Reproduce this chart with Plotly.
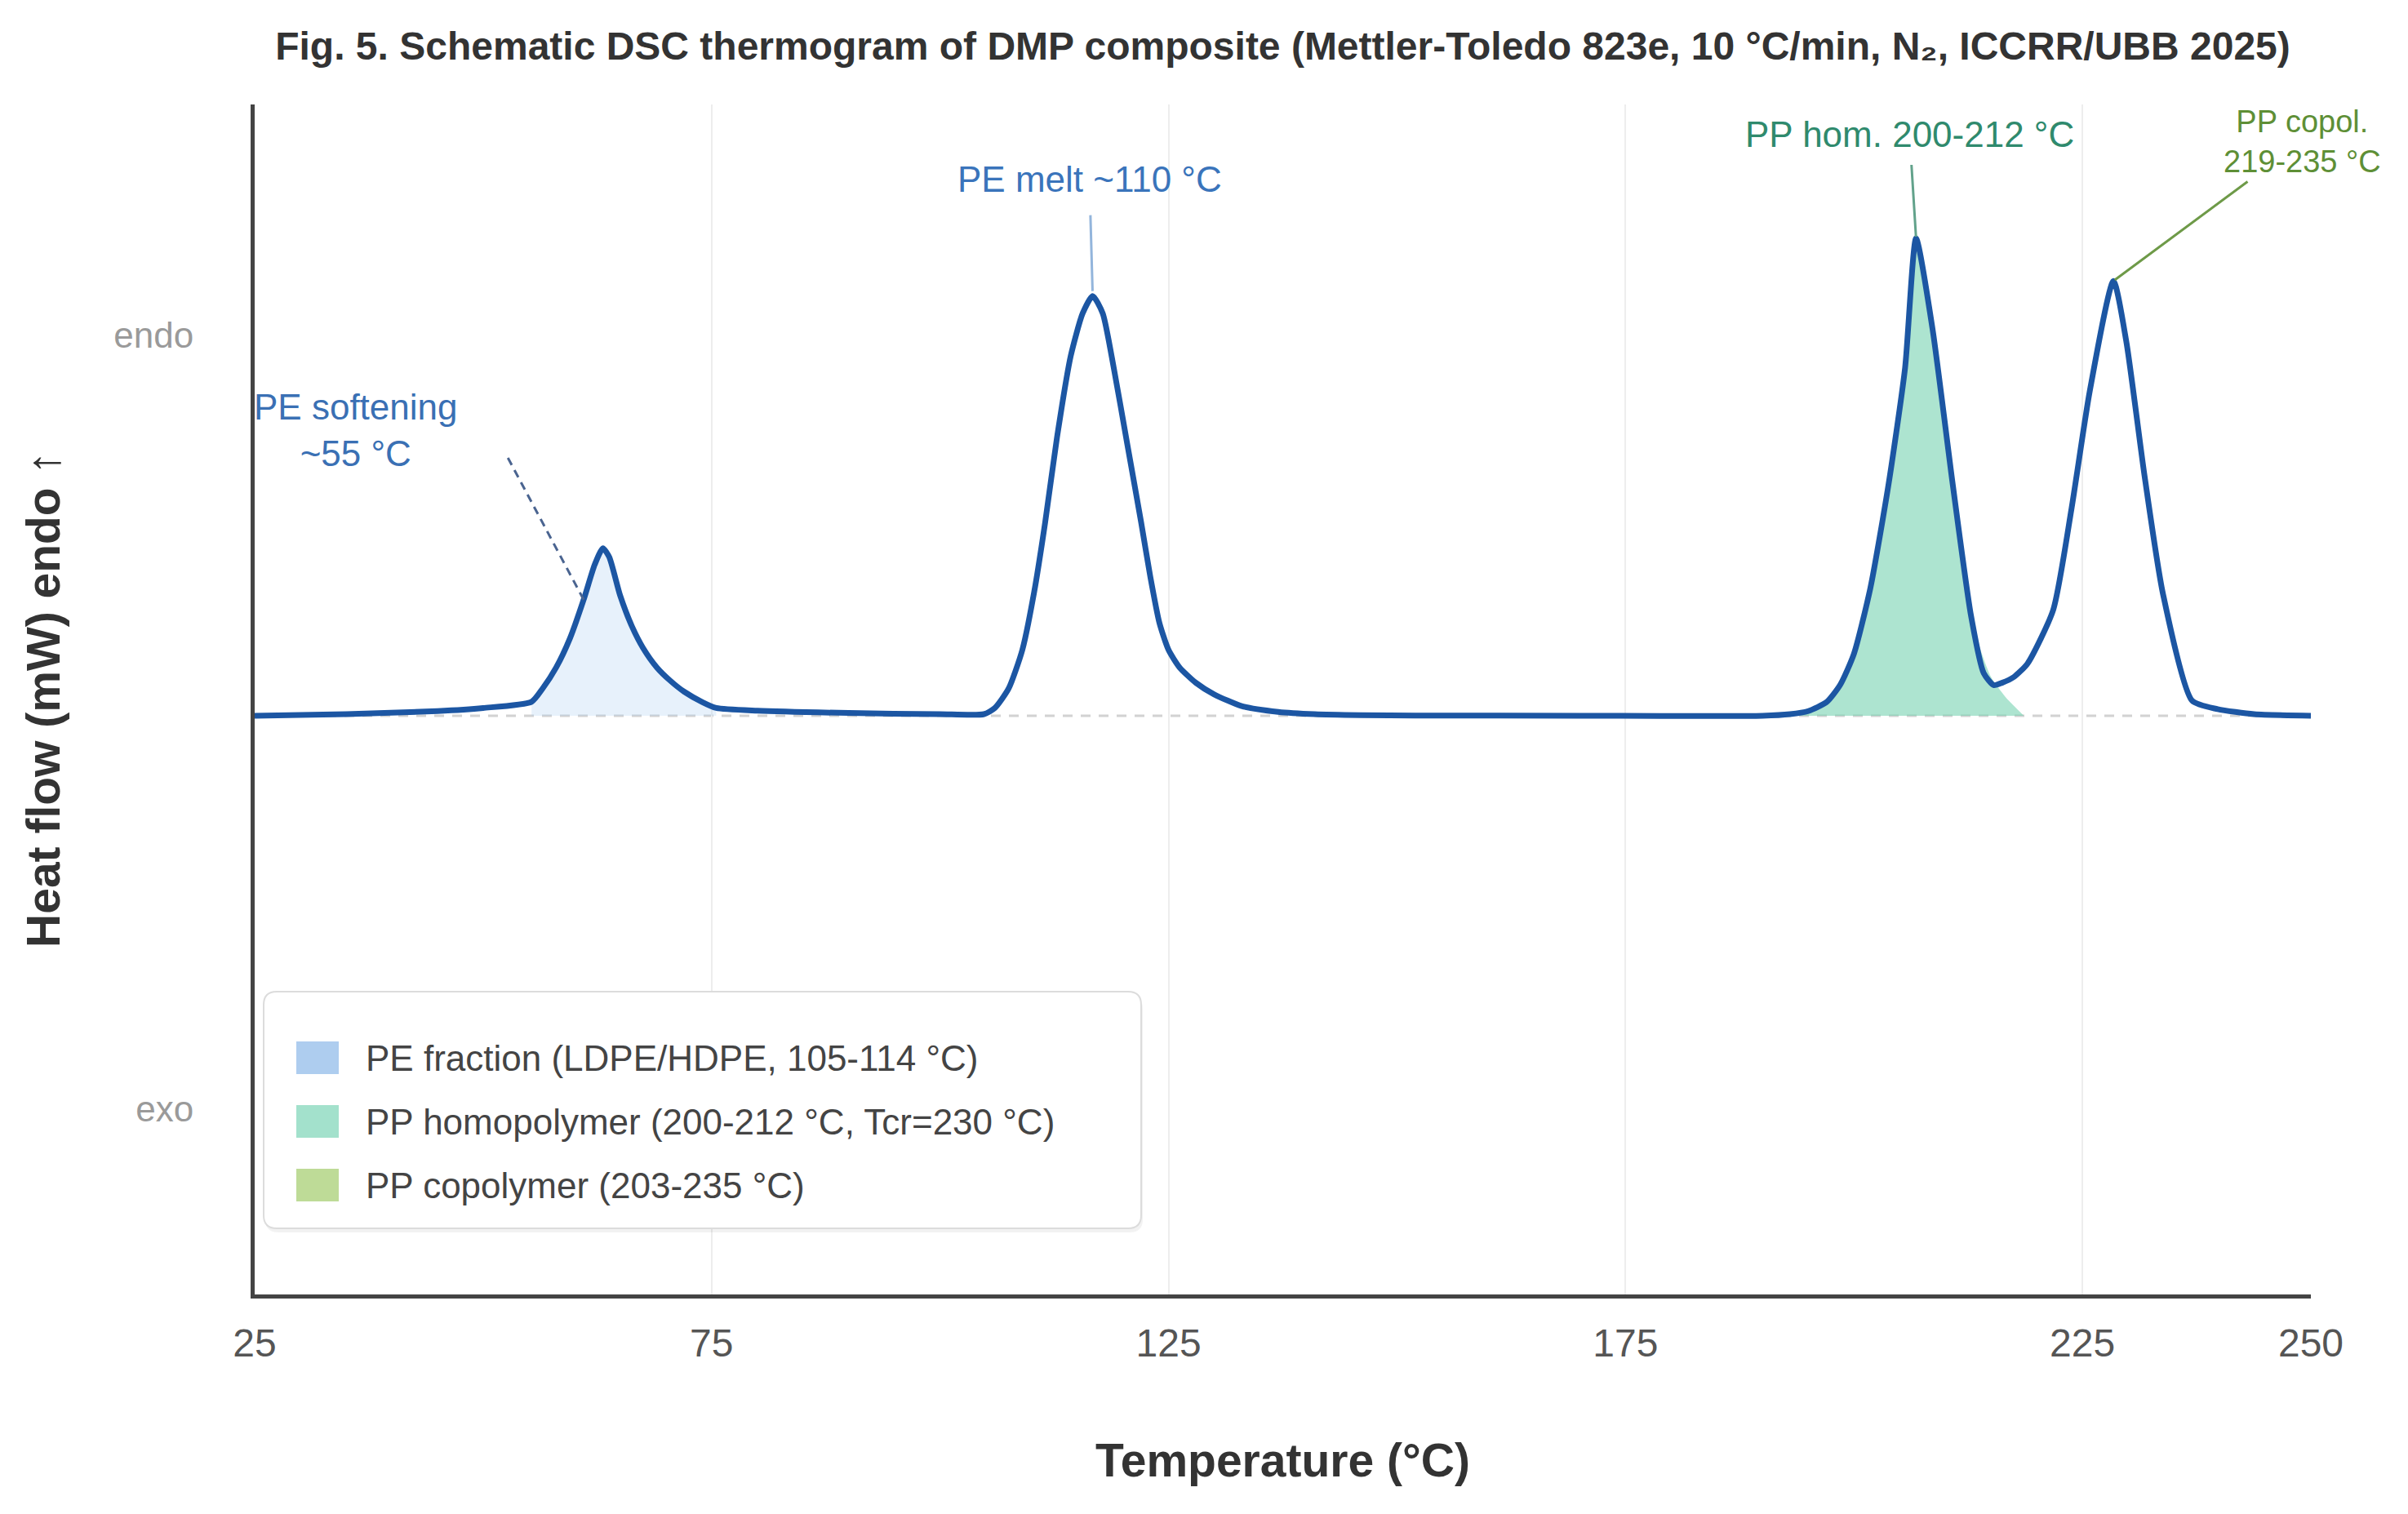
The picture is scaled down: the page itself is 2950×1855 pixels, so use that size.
import plotly.graph_objects as go

# ---------------- data ----------------
temps = [25, 35, 45, 50, 55.3, 56.5, 58, 59.5, 61, 62.2, 63.1, 63.8, 65, 66.3, 67.5, 69, 70.5, 72, 74, 75.5,
         80, 90, 100, 104.8,
         106, 107.5, 109, 110.3, 111.5, 112.8, 114.3, 115.6, 116.7, 117.8, 119, 120.5, 122, 123, 124, 125,
         126.2, 128, 130, 133, 137, 141, 146, 152,
         170, 190, 193, 195, 197, 198.5, 200, 201.8, 203.8, 205.6, 206.8, 208.6, 210.8, 212.8, 214.2, 215.3,
         216.2, 217.5, 219, 221.8, 223.8, 225.8, 228.4, 229.8, 231.8, 233.8, 237.0, 239.8, 243.8, 250]
heat_flow = [0.0, 0.004, 0.012, 0.02, 0.036, 0.07, 0.125, 0.2, 0.3, 0.39, 0.433, 0.41, 0.31, 0.23, 0.175, 0.125, 0.09, 0.062, 0.035, 0.02,
             0.013, 0.007, 0.004, 0.004,
             0.02, 0.07, 0.17, 0.32, 0.5, 0.72, 0.93, 1.04, 1.085, 1.04, 0.9, 0.7, 0.5, 0.36, 0.24, 0.17,
             0.125, 0.085, 0.055, 0.025, 0.01, 0.004, 0.0015, 0.0005,
             0.0, 0.0, 0.004, 0.012, 0.035, 0.08, 0.16, 0.33, 0.6, 0.9, 1.234, 1.0, 0.6, 0.26, 0.11, 0.079,
             0.085, 0.1, 0.135, 0.273, 0.534, 0.838, 1.124, 0.968, 0.62, 0.317, 0.039, 0.017, 0.004, 0.0]

# PE softening shaded region (temperature window of the small PE peak)
pe_fill_range = (55.3, 75.5)

# PP homopolymer melting peak (shaded area)
pp_hom_t = [192.5, 195, 197, 198.5, 200, 201.8, 203.8, 205.6, 206.8, 208.6, 210.8, 212.8, 214.0, 215.0, 216.6, 218.6]
pp_hom_v = [0.0, 0.012, 0.035, 0.08, 0.16, 0.33, 0.6, 0.9, 1.234, 1.0, 0.6, 0.26, 0.16, 0.1, 0.048, 0.0]

legend_names = ["PE fraction (LDPE/HDPE, 105-114 °C)",
                "PP homopolymer (200-212 °C, Tcr=230 °C)",
                "PP copolymer (203-235 °C)"]
legend_colors = ["#aecdef", "#a3e1cc", "#bedb97"]

x_tickvals = [25, 75, 125, 175, 225, 250]
y_tickvals = [1, -1]
y_ticktext = ["endo", "exo"]

peak_pe_soft = (63.1, 0.433)
pe_soft_flank = (61, 0.3)
peak_pe_melt = (116.7, 1.085)
peak_pp_hom = (206.8, 1.234)
peak_pp_cop = (228.4, 1.124)

# ---------------- layout geometry ----------------
W, H = 2950, 1855
L, R, T, B = 312, 119, 128, 269
PW, PH = W - L - R, H - T - B
FONT = "Liberation Sans, Arial, sans-serif"


def pxx(px):
    return (px - L) / PW


def pxy(py):
    return (T + PH - py) / PH


def rrect(x0, y0, x1, y1, r):
    # rounded rectangle in paper coords from pixel coords
    rx, ry = r / PW, r / PH
    X0, X1 = pxx(x0), pxx(x1)
    Y0, Y1 = pxy(y1), pxy(y0)  # Y0 bottom, Y1 top
    return (f"M {X0+rx},{Y0} L {X1-rx},{Y0} Q {X1},{Y0} {X1},{Y0+ry} "
            f"L {X1},{Y1-ry} Q {X1},{Y1} {X1-rx},{Y1} L {X0+rx},{Y1} "
            f"Q {X0},{Y1} {X0},{Y1-ry} L {X0},{Y0+ry} Q {X0},{Y0} {X0+rx},{Y0} Z")


fig = go.Figure()

pe_t = [t for t in temps if pe_fill_range[0] <= t <= pe_fill_range[1]]
pe_v = [v for t, v in zip(temps, heat_flow) if pe_fill_range[0] <= t <= pe_fill_range[1]]
fig.add_trace(go.Scatter(x=pe_t, y=pe_v, mode="lines", fill="tozeroy",
                         fillcolor="rgba(170,205,240,0.28)", line=dict(width=0, shape="spline", smoothing=0.6),
                         showlegend=False, hoverinfo="skip"))
fig.add_trace(go.Scatter(x=pp_hom_t, y=pp_hom_v, mode="lines", fill="tozeroy",
                         fillcolor="rgba(110,207,172,0.57)", line=dict(width=0, shape="spline", smoothing=0.6),
                         showlegend=False, hoverinfo="skip"))
fig.add_trace(go.Scatter(x=temps, y=heat_flow, mode="lines",
                         line=dict(color="#1c56a3", width=7, shape="spline", smoothing=0.6),
                         showlegend=False))

shapes = []
# dashed baseline
shapes.append(dict(type="line", xref="paper", x0=0, x1=1, yref="y", y0=0, y1=0,
                   line=dict(color="#d2d2d2", width=3, dash="12px,10px"), layer="below"))
# PE softening dashed leader
shapes.append(dict(type="line", xref="x", yref="y", xsizemode="pixel", ysizemode="pixel",
                   xanchor=pe_soft_flank[0], yanchor=pe_soft_flank[1],
                   x0=0, y0=0, x1=-94, y1=176,
                   line=dict(color="#4a6490", width=3, dash="10px,7px")))

# legend box
lx0, ly0, lx1, ly1 = 323, 1215, 1398, 1505
shapes.append(dict(type="path", xref="paper", yref="paper", path=rrect(lx0 + 2, ly0 + 5, lx1 + 2, ly1 + 5, 16),
                   fillcolor="rgba(0,0,0,0.05)", line=dict(width=0)))
shapes.append(dict(type="path", xref="paper", yref="paper", path=rrect(lx0, ly0, lx1, ly1, 16),
                   fillcolor="white", line=dict(color="#dcdcdc", width=2)))
row_y = [1296, 1374, 1452]
annotations = []
for name, col, ry in zip(legend_names, legend_colors, row_y):
    shapes.append(dict(type="rect", xref="paper", yref="paper",
                       x0=pxx(363), x1=pxx(415), y0=pxy(ry + 20), y1=pxy(ry - 20),
                       fillcolor=col, line=dict(width=0)))
    annotations.append(dict(xref="paper", yref="paper", x=pxx(446), y=pxy(ry), text=name,
                            showarrow=False, xanchor="left", yanchor="middle",
                            font=dict(family=FONT, size=44, color="#444444")))

# peak annotations
annotations.append(dict(x=peak_pe_soft[0], y=peak_pe_soft[1], xref="x", yref="y",
                        text="PE softening<br>~55 °C", showarrow=False,
                        xshift=-303, yshift=145, align="center",
                        font=dict(family=FONT, size=44, color="#3a70b4")))
annotations.append(dict(x=peak_pe_melt[0], y=peak_pe_melt[1], xref="x", yref="y",
                        text="PE melt ~110 °C", showarrow=True, arrowhead=0,
                        arrowwidth=3, arrowcolor="#93b5dc", ax=-4, ay=-143,
                        standoff=6, startstandoff=18,
                        font=dict(family=FONT, size=44, color="#3a74bb")))
annotations.append(dict(x=peak_pp_hom[0], y=peak_pp_hom[1], xref="x", yref="y",
                        text="PP hom. 200-212 °C", showarrow=True, arrowhead=0,
                        arrowwidth=3, arrowcolor="#62a28b", ax=-8, ay=-128,
                        standoff=2, startstandoff=12,
                        font=dict(family=FONT, size=44, color="#2f8a6d")))
annotations.append(dict(x=peak_pp_cop[0], y=peak_pp_cop[1], xref="x", yref="y",
                        text="PP copol.<br>219-235 °C", showarrow=True, arrowhead=0,
                        arrowwidth=3, arrowcolor="#6e9a48", ax=231, ay=-171,
                        standoff=2, startstandoff=4, align="center",
                        font=dict(family=FONT, size=38, color="#5e8f36")))

fig.update_layout(
    width=W, height=H,
    margin=dict(l=L, r=R, t=T, b=B, autoexpand=False),
    paper_bgcolor="white", plot_bgcolor="white",
    font=dict(family=FONT),
    title=dict(text="Fig. 5. Schematic DSC thermogram of DMP composite (Mettler-Toledo 823e, 10 °C/min, N₂, ICCRR/UBB 2025)",
               x=0.5, xref="paper", xanchor="center", y=1 - 56 / H, yref="container", yanchor="middle",
               font=dict(family=FONT, size=48, color="#333333", weight="bold")),
    showlegend=False,
    shapes=shapes,
    annotations=annotations,
)
fig.update_xaxes(range=[25, 250], tickvals=x_tickvals, ticktext=[str(v) for v in x_tickvals],
                 showgrid=True, gridcolor="#ededed", gridwidth=2,
                 showline=True, linecolor="#444444", linewidth=5, zeroline=False,
                 ticks="", ticklabelstandoff=13,
                 tickfont=dict(family=FONT, size=48, color="#555555"),
                 title=dict(text="Temperature (°C)", standoff=100,
                            font=dict(family=FONT, size=57, color="#333333", weight="bold")),
                 automargin=False)
fig.update_yaxes(range=[-1.496, 1.58], tickvals=y_tickvals, ticktext=y_ticktext,
                 showgrid=False, showline=True, linecolor="#444444", linewidth=5, zeroline=False,
                 ticks="", ticklabelstandoff=61, ticklabelshift=8,
                 tickfont=dict(family=FONT, size=44, color="#9a9a9a"),
                 title=dict(text="Heat flow (mW) endo ↑", standoff=49,
                            font=dict(family=FONT, size=57, color="#333333", weight="bold")),
                 automargin=False)

fig.write_html("out.html")
